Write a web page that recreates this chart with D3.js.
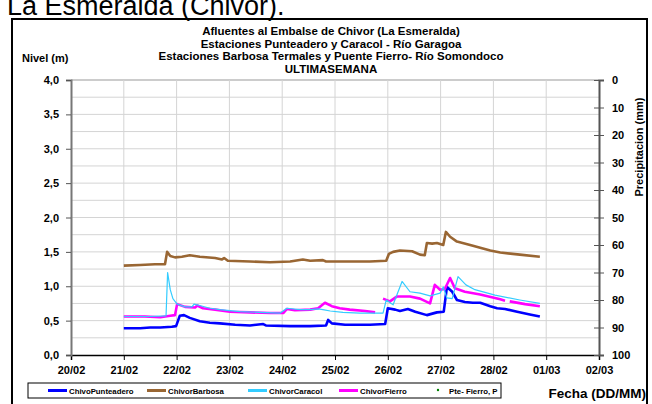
<!DOCTYPE html>
<html lang="es">
<head>
<meta charset="UTF-8">
<title>Afluentes al Embalse de Chivor</title>
<script src="https://d3js.org/d3.v7.min.js"></script>
<style>
  body { margin: 0; background: #fff; font-family: "Liberation Sans", Arial, sans-serif; }
  svg text { font-family: "Liberation Sans", Arial, sans-serif; }
</style>
</head>
<body>
<div id="chart"></div>
<script>
// dia = dia de febrero (con fraccion), valor = nivel en m
const punteadero = [[21.00,0.39],[21.31,0.39],[21.50,0.40],[21.69,0.40],[21.91,0.41],[21.99,0.42],[22.06,0.57],[22.14,0.58],[22.25,0.54],[22.44,0.49],[22.63,0.47],[22.82,0.46],[23.11,0.44],[23.39,0.43],[23.64,0.45],[23.69,0.43],[24.15,0.42],[24.53,0.42],[24.83,0.43],[24.87,0.51],[24.94,0.46],[25.19,0.44],[25.66,0.44],[25.95,0.45],[26.00,0.68],[26.14,0.66],[26.23,0.64],[26.38,0.67],[26.52,0.63],[26.74,0.58],[26.93,0.62],[27.06,0.63],[27.12,0.99],[27.22,0.92],[27.31,0.80],[27.46,0.77],[27.61,0.76],[27.75,0.76],[27.94,0.71],[28.07,0.68],[28.22,0.67],[28.45,0.63],[28.69,0.59],[28.88,0.56]];
const barbosa = [[21.00,1.30],[21.31,1.31],[21.59,1.32],[21.78,1.32],[21.82,1.50],[21.88,1.44],[21.97,1.42],[22.10,1.43],[22.25,1.45],[22.44,1.43],[22.73,1.41],[22.86,1.39],[22.90,1.41],[22.97,1.37],[23.39,1.36],[23.77,1.35],[24.15,1.36],[24.39,1.39],[24.53,1.37],[24.77,1.38],[24.83,1.36],[25.28,1.36],[25.66,1.36],[25.97,1.37],[26.02,1.47],[26.10,1.50],[26.23,1.52],[26.46,1.51],[26.61,1.46],[26.70,1.45],[26.74,1.63],[26.84,1.62],[26.93,1.63],[27.05,1.60],[27.10,1.79],[27.18,1.72],[27.31,1.65],[27.56,1.60],[27.75,1.56],[27.94,1.52],[28.13,1.49],[28.50,1.46],[28.88,1.43]];
const caracol = [[21.00,0.56],[21.50,0.56],[21.80,0.57],[21.83,1.20],[21.88,0.95],[21.93,0.82],[22.01,0.74],[22.16,0.70],[22.29,0.70],[22.33,0.74],[22.44,0.72],[22.63,0.68],[22.82,0.66],[23.20,0.63],[23.58,0.62],[23.96,0.61],[24.09,0.68],[24.34,0.66],[24.53,0.66],[24.68,0.67],[24.77,0.66],[24.91,0.64],[25.15,0.62],[25.47,0.61],[25.91,0.61],[25.97,0.80],[26.10,0.73],[26.27,1.07],[26.42,0.92],[26.61,0.90],[26.80,0.86],[26.99,0.90],[27.05,0.99],[27.12,0.83],[27.22,0.82],[27.33,1.14],[27.48,1.02],[27.65,0.95],[28.03,0.87],[28.50,0.80],[28.88,0.75]];
const fierro = [[21.00,0.56],[21.40,0.56],[21.69,0.55],[21.88,0.57],[21.97,0.58],[22.01,0.74],[22.16,0.70],[22.35,0.69],[22.39,0.72],[22.50,0.68],[22.73,0.66],[23.01,0.63],[23.39,0.62],[23.77,0.61],[24.02,0.61],[24.09,0.67],[24.24,0.65],[24.53,0.66],[24.68,0.68],[24.81,0.76],[24.94,0.71],[25.09,0.68],[25.28,0.66],[25.57,0.64],[25.76,0.62],[25.84,null],[25.91,0.82],[26.04,0.78],[26.17,0.85],[26.42,0.85],[26.61,0.82],[26.80,0.75],[26.89,1.02],[26.99,0.95],[27.08,0.96],[27.18,1.12],[27.27,0.97],[27.46,0.92],[27.75,0.88],[28.13,0.81],[28.22,0.79],[28.26,null],[28.31,0.78],[28.60,0.74],[28.88,0.71]];

const nivelTicks = [0,0.5,1,1.5,2,2.5,3,3.5,4];
const precTicks = [0,10,20,30,40,50,60,70,80,90,100];
const titulo = ["Afluentes al Embalse de Chivor (La Esmeralda)",
                "Estaciones Punteadero y Caracol - Río Garagoa",
                "Estaciones Barbosa Termales y Puente Fierro- Río Somondoco",
                "ULTIMASEMANA"];
const series = [
  {name: "ChivoPunteadero", data: punteadero, color: "#0000ff", w: 2.6},
  {name: "ChivorBarbosa", data: barbosa, color: "#996633", w: 2.6},
  {name: "ChivorFierro", data: fierro, color: "#ff00ff", w: 2.6},
  {name: "ChivorCaracol", data: caracol, color: "#33ccff", w: 1.2}
];
const legendOrder = ["ChivoPunteadero","ChivorBarbosa","ChivorCaracol","ChivorFierro"];

const W = 652, H = 404;
const plot = {left: 71, right: 599, top: 80, bottom: 355};

const svg = d3.select("#chart").append("svg")
  .attr("width", W).attr("height", H);

// texto de la pagina (cortado arriba)
svg.append("text").attr("x", 7).attr("y", 15)
  .style("font-size", "27px").attr("fill", "#000")
  .text("La Esmeralda (Chivor).");

// marco del grafico
svg.append("rect").attr("x", 12).attr("y", 19)
  .attr("width", 635).attr("height", 400)
  .attr("fill", "none").attr("stroke", "#000").attr("stroke-width", 2);

const base = new Date(2023, 1, 20);
const toDate = dia => d3.timeMinute.offset(base, Math.round((dia - 20) * 1440));

const x = d3.scaleTime()
  .domain([base, new Date(2023, 2, 2)])
  .range([plot.left, plot.right]);
const y = d3.scaleLinear().domain([0, 4]).range([plot.bottom, plot.top]);
const y2 = d3.scaleLinear().domain([0, 100]).range([plot.top, plot.bottom]);

const comma = d3.formatLocale({decimal: ",", thousands: ".", grouping: [3], currency: ["", ""]});

// rejilla
const grid = svg.append("g");
grid.selectAll(".h").data(d3.range(0.25, 4.01, 0.25)).enter().append("line")
  .attr("x1", plot.left).attr("x2", plot.right)
  .attr("y1", d => y(d)).attr("y2", d => y(d))
  .attr("stroke", (d) => d === 4 ? "#999" : "#d4d4d4").attr("stroke-width", 1);
grid.selectAll(".v").data(d3.timeDay.range(new Date(2023,1,21), new Date(2023,2,2))).enter().append("line")
  .attr("x1", d => x(d)).attr("x2", d => x(d))
  .attr("y1", plot.top).attr("y2", plot.bottom)
  .attr("stroke", "#d4d4d4").attr("stroke-width", 1);

// series
const line = d3.line()
  .defined(d => d[1] != null)
  .x(d => x(toDate(d[0])))
  .y(d => y(d[1]));
series.forEach(s => {
  svg.append("path").datum(s.data)
    .attr("d", line)
    .attr("fill", "none")
    .attr("stroke", s.color)
    .attr("stroke-width", s.w)
    .attr("stroke-linejoin", "round");
});

// ejes
const xAxis = svg.append("g").attr("transform", `translate(0,${plot.bottom})`)
  .call(d3.axisBottom(x).ticks(d3.timeDay.every(1)).tickFormat(d3.timeFormat("%d/%m")).tickSize(5).tickPadding(6));
xAxis.select(".domain").attr("stroke", "#000").attr("stroke-width", 1.5);
xAxis.selectAll("text").style("font-size", "11px").style("font-weight", "bold").attr("fill", "#000");

const yAxis = svg.append("g").attr("transform", `translate(${plot.left},0)`)
  .call(d3.axisLeft(y).tickValues(nivelTicks).tickFormat(comma.format(".1f")).tickSize(5).tickPadding(7));
yAxis.select(".domain").attr("stroke", "#777").attr("stroke-width", 2);
yAxis.selectAll(".tick line").attr("stroke", "#555");
yAxis.selectAll("text").style("font-size", "11px").style("font-weight", "bold").attr("fill", "#000");

const y2Axis = svg.append("g").attr("transform", `translate(${plot.right},0)`)
  .call(d3.axisRight(y2).tickValues(precTicks).tickSize(5).tickPadding(8));
y2Axis.select(".domain").attr("stroke", "#555").attr("stroke-width", 2);
y2Axis.selectAll(".tick line").attr("x1", -5).attr("stroke", "#555");
y2Axis.selectAll("text").style("font-size", "11px").style("font-weight", "bold").attr("fill", "#000");

// titulos
svg.append("g").selectAll("text").data(titulo).enter().append("text")
  .attr("x", 331).attr("y", (d, i) => 35 + i * 12.7)
  .attr("text-anchor", "middle")
  .style("font-size", "11.5px").style("font-weight", "bold")
  .text(d => d);

svg.append("text").attr("x", 22).attr("y", 62)
  .style("font-size", "11px").style("font-weight", "bold").text("Nivel (m)");

svg.append("text").attr("transform", "translate(643,147) rotate(-90)")
  .attr("text-anchor", "middle")
  .style("font-size", "11px").style("font-weight", "bold").text("Precipitacion (mm)");

svg.append("text").attr("x", 646).attr("y", 398).attr("text-anchor", "end")
  .style("font-size", "13.5px").style("font-weight", "bold").text("Fecha (DD/MM)");

// leyenda
const lg = svg.append("g");
lg.append("rect").attr("x", 28).attr("y", 383).attr("width", 473).attr("height", 15)
  .attr("fill", "#fff").attr("stroke", "#000").attr("stroke-width", 1);
const legX = [48, 147, 248, 339];
legendOrder.forEach((n, i) => {
  const s = series.find(d => d.name === n);
  lg.append("line").attr("x1", legX[i]).attr("x2", legX[i] + 19)
    .attr("y1", 390.5).attr("y2", 390.5)
    .attr("stroke", s.color).attr("stroke-width", 3);
  lg.append("text").attr("x", legX[i] + 21).attr("y", 393.5)
    .style("font-size", "7.8px").style("font-weight", "bold").text(n);
});
lg.append("circle").attr("cx", 438).attr("cy", 390).attr("r", 1.2).attr("fill", "#008000");
lg.append("text").attr("x", 449).attr("y", 393.5)
  .style("font-size", "7.8px").style("font-weight", "bold").text("Pte- Fierro, P");
</script>
</body>
</html>
